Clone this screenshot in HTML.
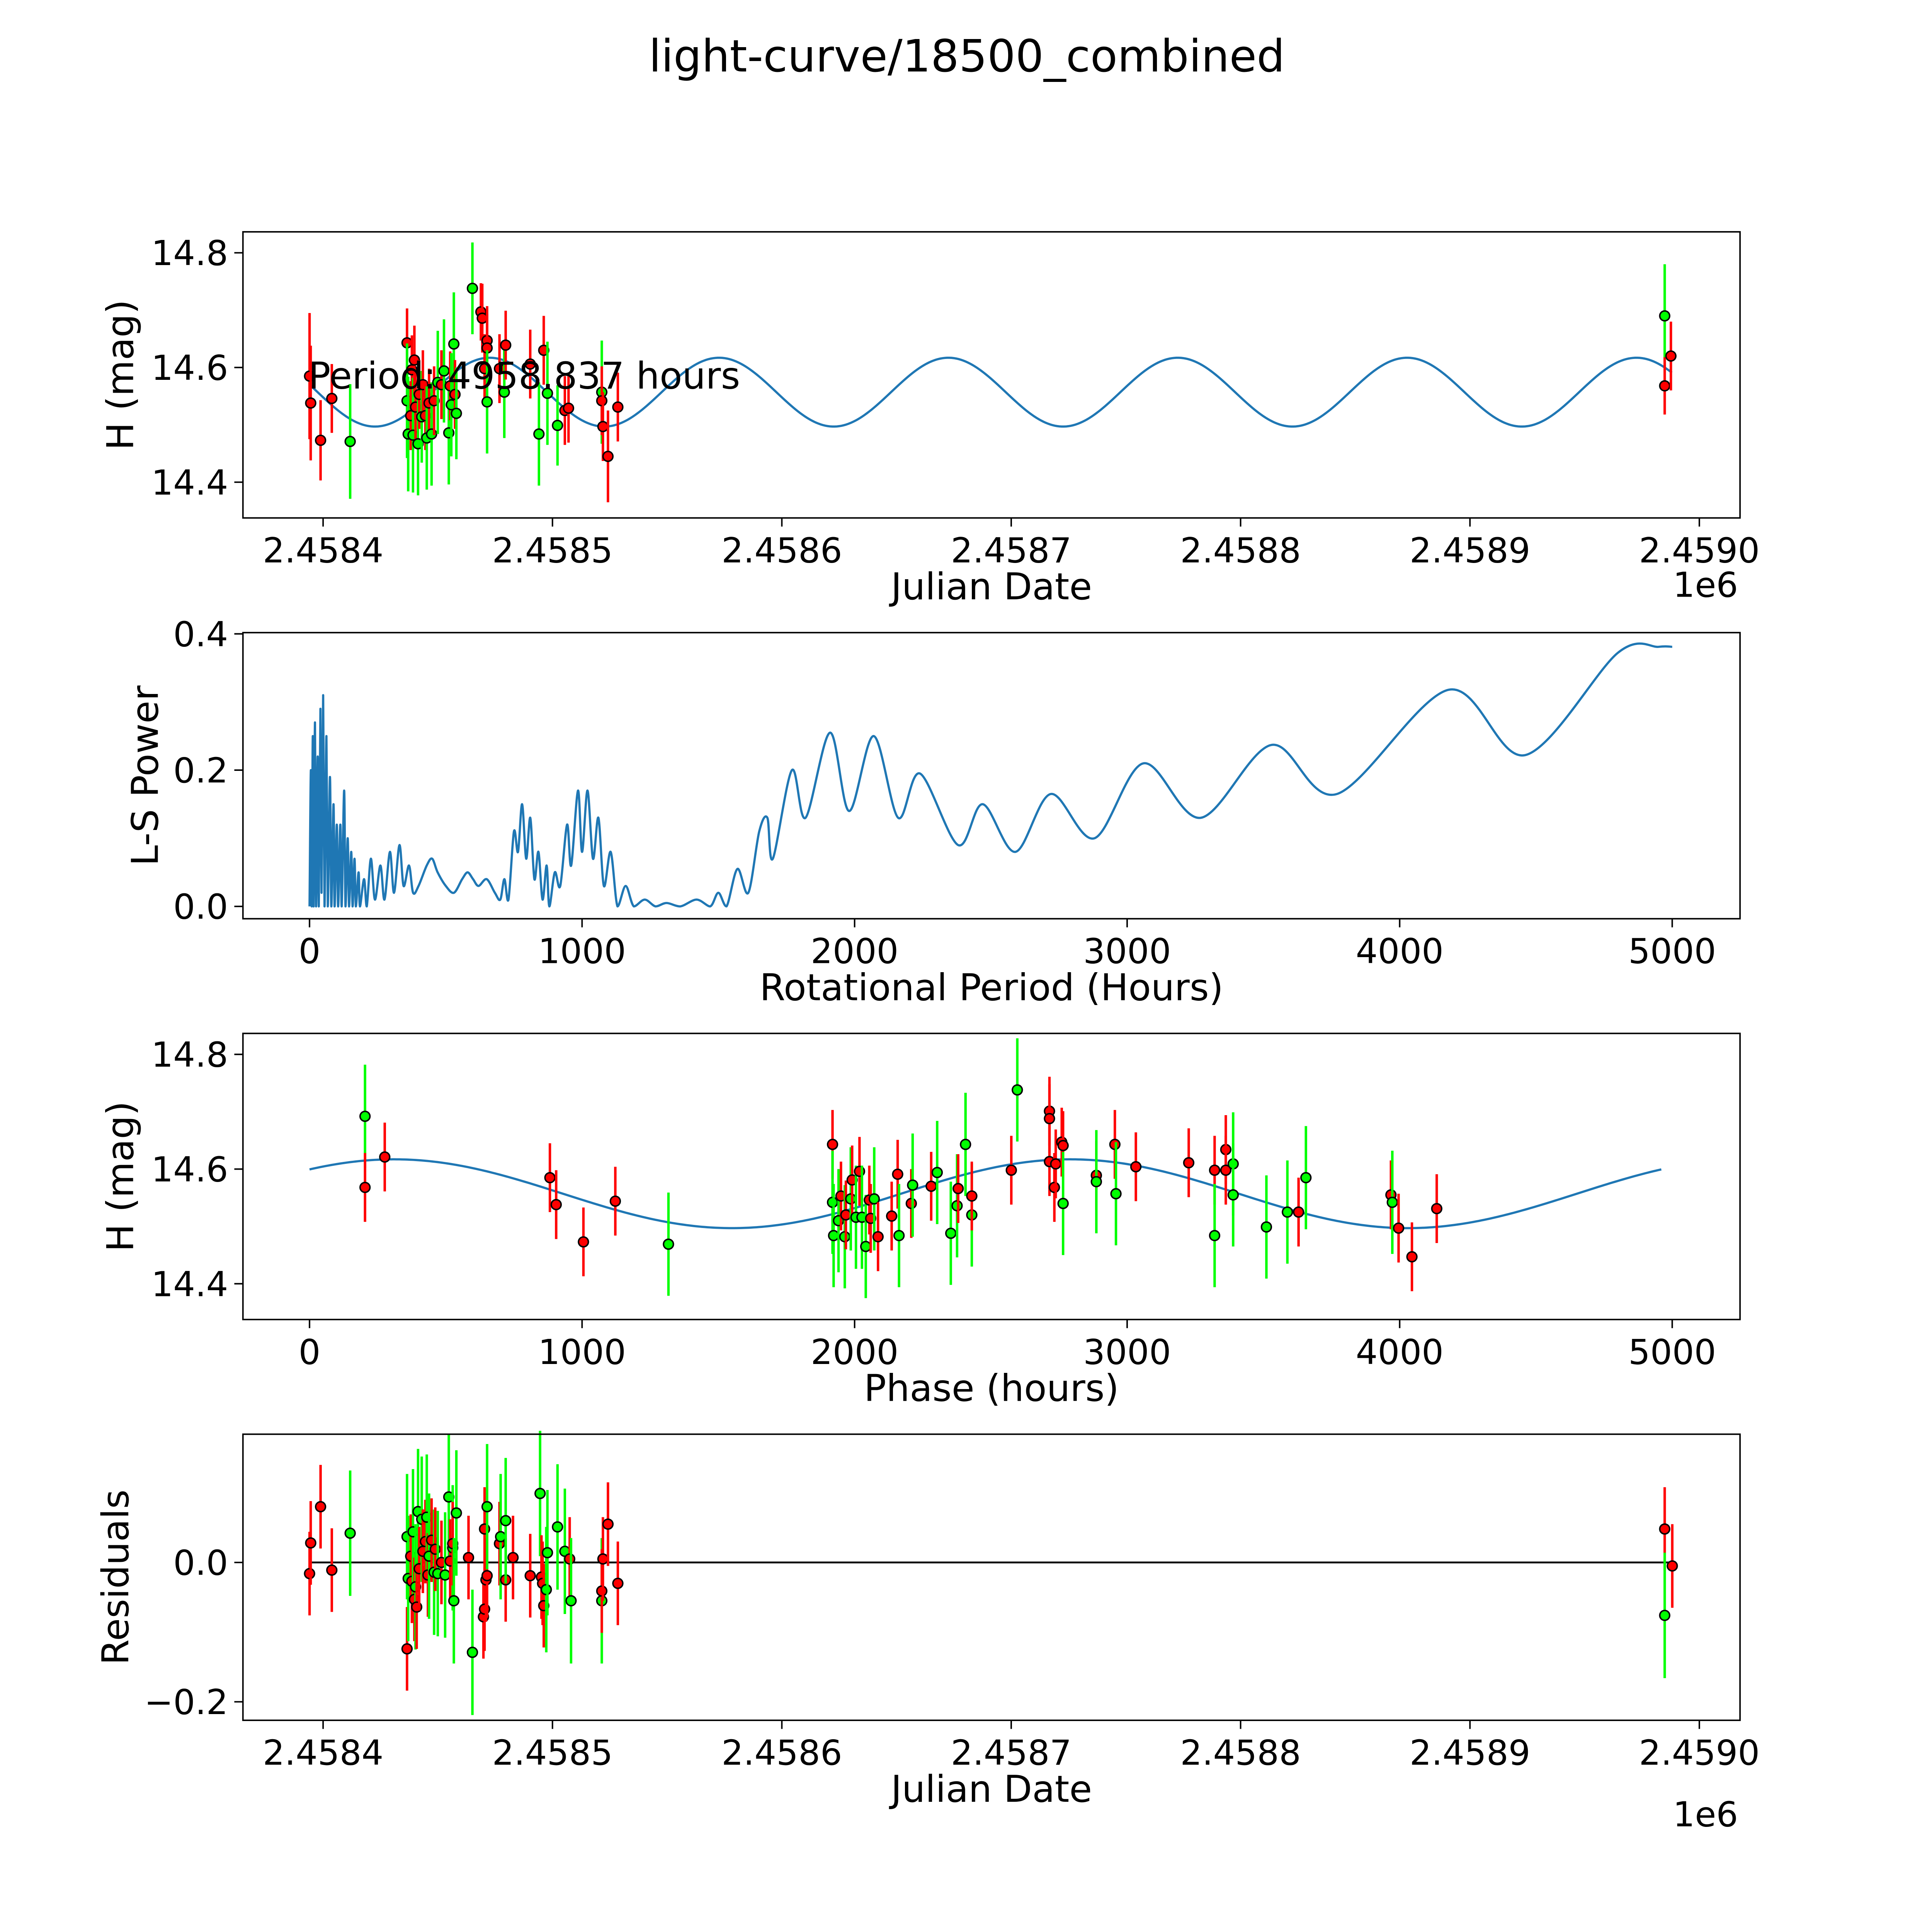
<!DOCTYPE html>
<html><head><meta charset="utf-8"><style>html,body{margin:0;padding:0;background:#fff;width:5400px;height:5400px;overflow:hidden}svg{display:block}text{font-family:"DejaVu Sans","Liberation Sans",sans-serif;fill:#000}</style></head>
<body>
<svg id="fig" xmlns="http://www.w3.org/2000/svg" width="5400" height="5400" viewBox="0 0 1692 1692">
<rect width="1692" height="1692" fill="#fff"/>
<text x="784" y="58" font-size="36" text-anchor="middle">light-curve/18500_combined</text>
<g id="root"></g>
</svg>
<script>
// ===== data =====
const lcJD = [394.1,394.6,398.9,403.8,411.8,436.6,436.6,437.1,438.2,438.7,439.2,439.8,440.3,441.4,441.9,443.0,443.5,444.6,445.2,446.2,447.3,448.4,450.0,451.6,452.7,454.8,455.4,455.9,457.0,457.5,458.1,465.1,468.8,469.4,470.4,471.5,471.5,471.5,476.9,479.0,479.6,490.3,494.1,496.2,497.8,502.2,505.4,507.0,521.5,521.5,522.0,524.2,528.5,984.9,984.9,987.6];
const lcMag = [14.585,14.538,14.473,14.546,14.471,14.643,14.542,14.484,14.516,14.596,14.482,14.613,14.531,14.467,14.553,14.514,14.570,14.516,14.477,14.538,14.484,14.542,14.574,14.570,14.594,14.486,14.568,14.535,14.641,14.553,14.520,14.738,14.697,14.686,14.598,14.647,14.634,14.540,14.598,14.557,14.639,14.606,14.484,14.630,14.555,14.499,14.525,14.529,14.557,14.542,14.497,14.445,14.531,14.690,14.568,14.620];
const lcErr = [0.11,0.1,0.07,0.06,0.1,0.06,0.1,0.1,0.06,0.06,0.1,0.06,0.06,0.09,0.06,0.08,0.06,0.06,0.09,0.06,0.09,0.06,0.09,0.06,0.09,0.09,0.06,0.09,0.09,0.06,0.08,0.08,0.05,0.06,0.06,0.06,0.06,0.09,0.06,0.08,0.06,0.06,0.09,0.06,0.09,0.07,0.06,0.06,0.09,0.06,0.06,0.08,0.06,0.09,0.05,0.06];
const lcGreen = [0,0,0,0,1,0,1,1,0,0,1,0,0,1,0,1,0,0,1,0,1,0,1,0,1,1,0,1,1,0,1,1,0,0,0,0,0,1,0,1,0,0,1,0,1,1,0,0,1,0,0,0,0,1,0,0];
const lsPeriod = [0,5,8,12,15,20,24,30,34,40,44,50,55,62,67,75,80,88,92,100,105,113,118,127,132,140,145,153,158,165,170,180,185,200,210,225,240,260,275,295,310,330,345,365,380,400,430,450,470,500,530,560,580,600,620,650,680,700,715,730,750,765,780,795,810,825,840,855,870,880,900,920,945,960,985,1000,1020,1040,1060,1080,1105,1130,1160,1190,1230,1270,1310,1360,1420,1470,1500,1530,1570,1610,1650,1680,1700,1770,1820,1910,1980,2070,2160,2240,2380,2470,2590,2720,2880,3060,3270,3530,3770,4180,4460,4800,4950,5000];
const lsPower = [0,0.2,0,0.25,0,0.27,0,0.22,0,0.29,0.02,0.31,0,0.25,0,0.19,0,0.15,0,0.12,0,0.12,0,0.17,0,0.1,0,0.08,0,0.07,0,0.05,0,0.04,0,0.07,0.01,0.06,0.01,0.08,0.02,0.09,0.03,0.06,0.02,0.03,0.06,0.07,0.05,0.03,0.02,0.04,0.05,0.04,0.03,0.04,0.02,0.01,0.04,0.01,0.11,0.08,0.15,0.07,0.13,0.04,0.08,0.01,0.06,0,0.05,0.03,0.12,0.06,0.17,0.08,0.17,0.07,0.13,0.03,0.08,0,0.03,0,0.01,0,0.005,0,0.01,0,0.02,0,0.055,0.02,0.11,0.13,0.07,0.2,0.13,0.255,0.14,0.25,0.13,0.195,0.09,0.15,0.08,0.165,0.1,0.21,0.13,0.237,0.165,0.318,0.222,0.372,0.381,0.381];
const phPhase = [203.6,203.6,276,882,905,1005,1122,1317,1919,1919,1923,1941,1950,1964,1968,1986,1991,2005,2018,2027,2041,2054,2059,2072,2086,2136,2158,2163,2208,2213,2281,2303,2353,2376,2380,2407,2430,2430,2575,2597,2715,2715,2715,2733,2738,2760,2765,2765,2887,2887,2955,2959,3032,3226,3321,3321,3362,3362,3389,3389,3511,3588,3629,3656,3968,3973,3996,4045,4136];
const phMag = [14.692,14.568,14.621,14.585,14.538,14.473,14.544,14.469,14.643,14.542,14.484,14.510,14.553,14.482,14.520,14.548,14.581,14.516,14.596,14.516,14.465,14.546,14.514,14.548,14.482,14.518,14.591,14.484,14.540,14.572,14.570,14.594,14.488,14.536,14.566,14.643,14.520,14.553,14.598,14.738,14.701,14.688,14.613,14.568,14.609,14.647,14.641,14.540,14.589,14.578,14.643,14.557,14.604,14.611,14.598,14.484,14.634,14.598,14.609,14.555,14.499,14.525,14.525,14.585,14.555,14.542,14.497,14.447,14.531];
const phGreen = [1,0,0,0,0,0,0,1,0,1,1,1,0,1,0,1,0,1,0,1,1,0,0,1,0,0,0,1,0,1,0,1,1,1,0,1,1,0,0,1,0,0,0,0,0,0,0,1,0,1,0,1,0,0,0,1,0,0,1,1,1,1,0,1,0,1,0,0,0];
const resJD = [394.1,394.6,398.9,403.8,411.8,436.6,436.6,437.1,438.2,438.7,439.2,439.8,440.3,440.8,441.4,441.9,443.0,443.5,444.6,445.2,445.7,446.2,447.3,448.4,448.9,450.0,451.6,453.2,454.8,455.4,456.5,456.5,457.0,458.1,465.1,463.4,469.9,470.4,470.4,471.0,471.5,471.5,476.9,477.4,479.6,479.6,482.8,490.3,494.6,495.2,495.7,496.2,497.3,497.8,502.2,505.4,507.5,508.1,521.5,521.5,522.0,524.2,528.5,984.9,984.9,988.2];
const resVal = [-0.016,0.028,0.080,-0.011,0.042,-0.124,0.037,-0.023,0.009,-0.027,0.044,-0.053,-0.035,-0.064,0.073,-0.009,0.062,0.016,0.030,0.065,-0.018,0.009,0.032,-0.014,0.019,-0.016,0,-0.018,0.094,0.002,0.021,0.027,-0.055,0.071,-0.129,0.007,-0.078,-0.067,0.048,-0.025,-0.019,0.080,0.027,0.037,-0.025,0.060,0.007,-0.019,0.099,-0.021,-0.030,-0.062,-0.039,0.014,0.051,0.016,0.005,-0.055,-0.055,-0.041,0.005,0.055,-0.030,0.048,-0.076,-0.005];
const resGreen = [0,0,0,0,1,0,1,1,0,0,1,0,1,0,1,0,1,0,0,1,0,1,0,1,0,1,0,1,1,0,1,0,1,1,1,0,0,0,0,0,0,1,0,1,0,1,0,0,1,0,0,0,1,1,1,1,0,1,1,0,0,0,0,0,1,0];
const xTicksJD = ["2.4584","2.4585","2.4586","2.4587","2.4588","2.4589","2.4590"];
const xTicksJDval = [400,500,600,700,800,900,1000];
const xTicksP = [0,1000,2000,3000,4000,5000];
const yTicksMag = [14.4,14.6,14.8];
const yTicksLS = [0.0,0.2,0.4];
const yTicksRes = [-0.2,0.0];
const modelMean = 14.557, modelAmp = 0.06, modelPeriodDays = 100, modelPeakJD = 572.6;
const phasePeriod = 2480, phasePeak = 2790;

// ===== drawing =====
const NS = "http://www.w3.org/2000/svg";
const root = document.getElementById('root');
function el(tag, attrs, parent){const e=document.createElementNS(NS,tag);for(const k in attrs)e.setAttribute(k,attrs[k]);(parent||root).appendChild(e);return e;}
const X0=197,X1=1411;
const FT=28, FL=30;
const xJD = v => 262 + (v-400)*1.86;
const xP = v => 251 + v*0.221;
function panel(name, top, yScale, yTicks, yFmt, xScale, xTickVals, xTickLabels, xLabel, yLabel, extraOffset){
  const g = el('g',{});
  
  
  yTicks.forEach(t=>{const y=yScale(t);
    const ln=el('line',{x1:X0-7,x2:X0,y1:y,y2:y,stroke:'#000','stroke-width':1.2},g);
    
    
    const tx=el('text',{x:X0-12,y:y+10,'font-size':FT,'text-anchor':'end'},g);tx.textContent=yFmt(t);
    
    });
  xTickVals.forEach((t,i)=>{const x=xScale(t);
    const ln=el('line',{x1:x,x2:x,y1:top+232,y2:top+239,stroke:'#000','stroke-width':1.2},g);
    
    
    const tx=el('text',{x:x,y:top+268,'font-size':FT,'text-anchor':'middle'},g);tx.textContent=xTickLabels[i];
    
    });
  const xl=el('text',{x:804,y:top+298,'font-size':FL,'text-anchor':'middle'},g);xl.textContent=xLabel;
  
  
  const yl=el('text',{x:0,y:0,'font-size':FL,'text-anchor':'middle',transform:`translate(${extraOffset},${top+116}) rotate(-90)`},g);yl.textContent=yLabel;
  
  
  return g;
}
function frame(g, top){
  const r=el('rect',{x:X0,y:top,width:X1-X0,height:232,fill:'none',stroke:'#000','stroke-width':1.2},g);
  
  
}
function errPoint(g,x,y,yl,yh,green){
  const c = green?'#00ff00':'#ff0000';
  const ln=el('line',{x1:x,x2:x,y1:yl,y2:yh,stroke:c,'stroke-width':2},g);
  
  
  const ci=el('circle',{cx:x,cy:y,r:4,fill:c,stroke:'#000','stroke-width':1.2},g);
  
  
}
const fmtMag = t=>t.toFixed(1);
const y1 = m => 298 - (m-14.6)*465;
const g1 = panel('light-curve-panel',188,y1,yTicksMag,fmtMag,xJD,xTicksJDval,xTicksJD,'Julian Date','H (mag)',108);
let d='';
for(let jd=394;jd<=988;jd+=1){const m=modelMean+modelAmp*Math.cos(2*Math.PI*(jd-modelPeakJD)/modelPeriodDays);d+=(d?'L':'M')+xJD(jd).toFixed(2)+','+y1(m).toFixed(2);}
const m1=el('path',{d:d,fill:'none',stroke:'#1f77b4','stroke-width':1.8},g1);


lcJD.forEach((jd,i)=>errPoint(g1,xJD(jd),y1(lcMag[i]),y1(lcMag[i]-lcErr[i]),y1(lcMag[i]+lcErr[i]),lcGreen[i]));
const pt=el('text',{x:250,y:315,'font-size':FL},g1);pt.textContent='Period: 4958.837 hours';


const e1=el('text',{x:1383,y:484,'font-size':FT,'text-anchor':'middle'},g1);e1.textContent='1e6';


frame(g1,188);
const y2 = p => 735 - p*552.5;
const g2 = panel('periodogram-panel',513,y2,yTicksLS,t=>t.toFixed(1),xP,xTicksP,xTicksP.map(String),'Rotational Period (Hours)','L-S Power',128);
let pts = lsPeriod.map((p,i)=>[xP(p),y2(lsPower[i])]);
let d2='M'+pts[0][0]+','+pts[0][1];
for(let i=0;i<pts.length-1;i++){
  const p0=pts[Math.max(0,i-1)],p1=pts[i],p2=pts[i+1],p3=pts[Math.min(pts.length-1,i+2)];
  const t=0.16;
  const c1=[p1[0]+(p2[0]-p0[0])*t,p1[1]+(p2[1]-p0[1])*t];
  const c2=[p2[0]-(p3[0]-p1[0])*t,p2[1]-(p3[1]-p1[1])*t];
  c1[1]=Math.min(c1[1],735);c2[1]=Math.min(c2[1],735);
  d2+=`C${c1[0].toFixed(2)},${c1[1].toFixed(2)} ${c2[0].toFixed(2)},${c2[1].toFixed(2)} ${p2[0].toFixed(2)},${p2[1].toFixed(2)}`;
}
const ls=el('path',{d:d2,fill:'none',stroke:'#1f77b4','stroke-width':1.8,'stroke-linejoin':'round'},g2);


frame(g2,513);
const y3 = m => 948 - (m-14.6)*465;
const g3 = panel('phased-curve-panel',838,y3,yTicksMag,fmtMag,xP,xTicksP,xTicksP.map(String),'Phase (hours)','H (mag)',108);
let d3='';
for(let p=0;p<=4960;p+=10){const m=modelMean+modelAmp*Math.cos(2*Math.PI*(p-phasePeak)/phasePeriod);d3+=(d3?'L':'M')+xP(p).toFixed(2)+','+y3(m).toFixed(2);}
const m3=el('path',{d:d3,fill:'none',stroke:'#1f77b4','stroke-width':1.8},g3);


phPhase.forEach((p,i)=>{const e=phGreen[i]?0.09:0.06;errPoint(g3,xP(p),y3(phMag[i]),y3(phMag[i]-e),y3(phMag[i]+e),phGreen[i]);});
frame(g3,838);
const y4 = r => 1267 - r*565;
const g4 = panel('residuals-panel',1163,y4,yTicksRes,t=>t===0?'0.0':'\u22120.2',xJD,xTicksJDval,xTicksJD,'Julian Date','Residuals',104);
const zl=el('line',{x1:xJD(394),x2:xJD(988),y1:y4(0),y2:y4(0),stroke:'#000','stroke-width':1.5},g4);


resJD.forEach((jd,i)=>{const e=resGreen[i]?0.09:0.06;errPoint(g4,xJD(jd),y4(resVal[i]),y4(resVal[i]-e),y4(resVal[i]+e),resGreen[i]);});
const e4=el('text',{x:1383,y:1481,'font-size':FT,'text-anchor':'middle'},g4);e4.textContent='1e6';


frame(g4,1163);
</script>
</body></html>
